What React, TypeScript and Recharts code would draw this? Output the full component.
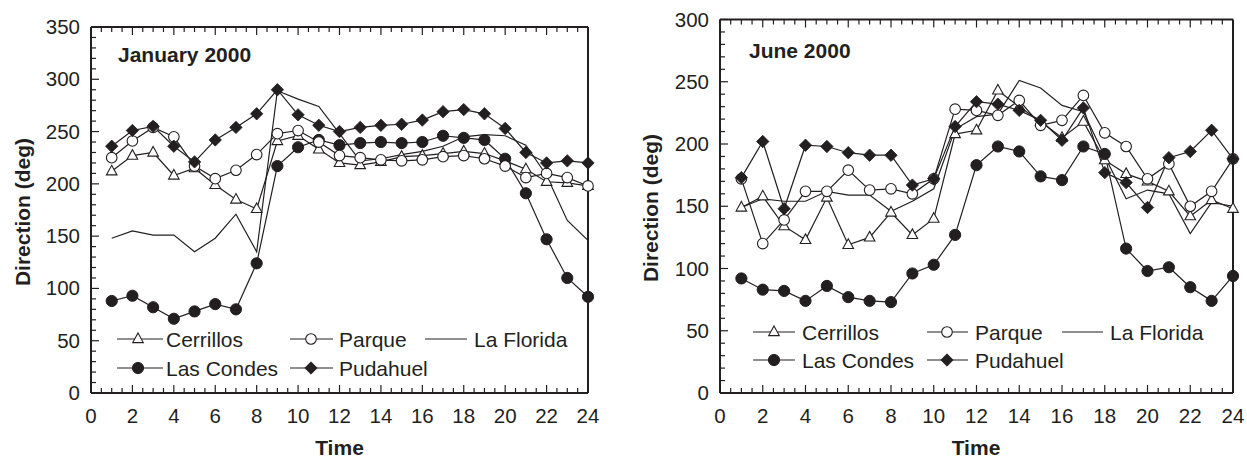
import React from 'react';
import { LineChart, Line, XAxis, YAxis } from 'recharts';

const hours = [1, 2, 3, 4, 5, 6, 7, 8, 9, 10, 11, 12, 13, 14, 15, 16, 17, 18, 19, 20, 21, 22, 23, 24];

const janCerrillos = [212, 227, 230, 208, 215, 199, 185, 176, 241, 246, 233, 220, 218, 221, 226, 227, 229, 231, 229, 222, 214, 202, 201, 198];
const janParque = [225, 241, 254, 245, 217, 205, 213, 228, 248, 251, 240, 227, 225, 223, 222, 223, 226, 227, 224, 217, 206, 210, 206, 198];
const janLaFlorida = [148, 155, 151, 151, 135, 148, 171, 135, 289, 281, 274, 248, 222, 224, 228, 231, 236, 245, 247, 246, 237, 208, 165, 146];
const janLasCondes = [88, 93, 82, 71, 78, 85, 80, 124, 217, 235, 242, 237, 239, 240, 239, 240, 246, 244, 242, 224, 191, 147, 110, 92];
const janPudahuel = [236, 251, 255, 236, 221, 242, 254, 267, 290, 266, 256, 250, 254, 256, 257, 261, 269, 271, 267, 253, 230, 220, 222, 220];

const junCerrillos = [149, 158, 134, 123, 157, 119, 125, 145, 127, 140, 208, 211, 243, 230, 218, 205, 218, 187, 176, 170, 162, 142, 155, 148];
const junParque = [172, 120, 139, 162, 162, 179, 163, 164, 160, 172, 228, 227, 223, 235, 215, 219, 239, 209, 198, 172, 184, 150, 162, 188];
const junLaFlorida = [149, 156, 154, 154, 162, 159, 159, 146, 154, 164, 212, 222, 224, 251, 245, 231, 226, 190, 156, 163, 160, 128, 153, 150];
const junLasCondes = [92, 83, 82, 74, 86, 77, 74, 73, 96, 103, 127, 183, 198, 194, 174, 171, 198, 192, 116, 98, 101, 85, 74, 94];
const junPudahuel = [173, 202, 148, 199, 198, 193, 191, 191, 167, 172, 214, 234, 232, 227, 219, 203, 229, 177, 169, 149, 189, 194, 211, 188];

const xTickLabels = [0, 2, 4, 6, 8, 10, 12, 14, 16, 18, 20, 22, 24];
const janYTickLabels = [0, 50, 100, 150, 200, 250, 300, 350];
const junYTickLabels = [0, 50, 100, 150, 200, 250, 300];

const INK = '#231f20';
const FONT = '"Liberation Sans", Arial, Helvetica, sans-serif';

function buildRows(c: number[], p: number[], f: number[], l: number[], pu: number[]) {
  return hours.map((h, i) => ({ h, cerrillos: c[i], parque: p[i], laFlorida: f[i], lasCondes: l[i], pudahuel: pu[i] }));
}

const janData = buildRows(janCerrillos, janParque, janLaFlorida, janLasCondes, janPudahuel);
const junData = buildRows(junCerrillos, junParque, junLaFlorida, junLasCondes, junPudahuel);

const xAllTicks: number[] = [];
for (let v = 0; v <= 24; v += 0.5) xAllTicks.push(v);
function yAllTicks(max: number) {
  const t: number[] = [];
  for (let v = 0; v <= max; v += 10) t.push(v);
  return t;
}

const BottomTick = (props: any) => {
  const { x, y, payload } = props;
  const v = payload.value;
  const major = xTickLabels.includes(v);
  return (
    <g>
      <line x1={x} y1={y} x2={x} y2={y - (major ? 8 : 5)} stroke={INK} strokeWidth={1.2} />
      {major && (
        <text x={x} y={y + 30} textAnchor="middle" fontSize={20.5} fontFamily={FONT} fill={INK}>{v}</text>
      )}
    </g>
  );
};
const TopTick = (props: any) => {
  const { x, y, payload } = props;
  const major = xTickLabels.includes(payload.value);
  return <line x1={x} y1={y} x2={x} y2={y + (major ? 8 : 5)} stroke={INK} strokeWidth={1.2} />;
};
const makeLeftTick = (labels: number[]) => (props: any) => {
  const { x, y, payload } = props;
  const v = payload.value;
  const major = labels.includes(v);
  return (
    <g>
      <line x1={x} y1={y} x2={x + (major ? 8 : 5)} y2={y} stroke={INK} strokeWidth={1.2} />
      {major && (
        <text x={x - 11} y={y + 7} textAnchor="end" fontSize={20.5} fontFamily={FONT} fill={INK}>{v}</text>
      )}
    </g>
  );
};
const makeRightTick = (labels: number[]) => (props: any) => {
  const { x, y, payload } = props;
  const major = labels.includes(payload.value);
  return <line x1={x} y1={y} x2={x - (major ? 8 : 5)} y2={y} stroke={INK} strokeWidth={1.2} />;
};

const TriangleMark = ({ cx, cy }: { cx: number; cy: number }) => (
  <path d={`M${cx},${cy - 6}L${cx + 5.3},${cy + 3.6}L${cx - 5.3},${cy + 3.6}Z`} fill="#fff" stroke={INK} strokeWidth={1.1} />
);
const OpenCircleMark = ({ cx, cy }: { cx: number; cy: number }) => (
  <circle cx={cx} cy={cy} r={5.3} fill="#fff" stroke={INK} strokeWidth={1.1} />
);
const FilledCircleMark = ({ cx, cy }: { cx: number; cy: number }) => (
  <circle cx={cx} cy={cy} r={5.6} fill={INK} stroke={INK} strokeWidth={1} />
);
const DiamondMark = ({ cx, cy }: { cx: number; cy: number }) => (
  <path d={`M${cx},${cy - 6.2}L${cx + 6.2},${cy}L${cx},${cy + 6.2}L${cx - 6.2},${cy}Z`} fill={INK} stroke={INK} strokeWidth={0.8} />
);

const dotFn = (Mark: any) => (p: any) => {
  if (p.cx == null || p.cy == null) return <g key={p.key} />;
  return <Mark key={p.key} cx={p.cx} cy={p.cy} />;
};

type PanelProps = {
  data: any[];
  yMax: number;
  yLabels: number[];
  width: number;
  height: number;
  margin: { top: number; right: number; bottom: number; left: number };
};

function Panel({ data, yMax, yLabels, width, height, margin }: PanelProps) {
  const yTicks = yAllTicks(yMax);
  const axisLine = { stroke: INK, strokeWidth: 2 };
  return (
    <LineChart width={width} height={height} data={data} margin={margin}>
      <XAxis xAxisId="b" dataKey="h" type="number" domain={[0, 24]} ticks={xAllTicks} interval={0}
        orientation="bottom" height={1} tickSize={0} tickMargin={0} axisLine={axisLine} tickLine={false}
        tick={BottomTick} />
      <XAxis xAxisId="t" dataKey="h" type="number" domain={[0, 24]} ticks={xAllTicks} interval={0}
        orientation="top" height={1} tickSize={0} tickMargin={0} axisLine={axisLine} tickLine={false}
        tick={TopTick} />
      <YAxis yAxisId="l" type="number" domain={[0, yMax]} ticks={yTicks} interval={0}
        orientation="left" width={1} tickSize={0} tickMargin={0} axisLine={axisLine} tickLine={false}
        tick={makeLeftTick(yLabels)} />
      <YAxis yAxisId="r" type="number" domain={[0, yMax]} ticks={yTicks} interval={0}
        orientation="right" width={1} tickSize={0} tickMargin={0} axisLine={axisLine} tickLine={false}
        tick={makeRightTick(yLabels)} />
      <Line xAxisId="b" yAxisId="l" type="linear" dataKey="laFlorida" stroke={INK} strokeWidth={1.2} dot={false} isAnimationActive={false} />
      <Line xAxisId="b" yAxisId="l" type="linear" dataKey="cerrillos" stroke={INK} strokeWidth={1.2} dot={dotFn(TriangleMark)} isAnimationActive={false} />
      <Line xAxisId="b" yAxisId="l" type="linear" dataKey="lasCondes" stroke={INK} strokeWidth={1.2} dot={dotFn(FilledCircleMark)} isAnimationActive={false} />
      <Line xAxisId="b" yAxisId="l" type="linear" dataKey="parque" stroke={INK} strokeWidth={1.2} dot={dotFn(OpenCircleMark)} isAnimationActive={false} />
      <Line xAxisId="b" yAxisId="l" type="linear" dataKey="pudahuel" stroke={INK} strokeWidth={1.2} dot={dotFn(DiamondMark)} isAnimationActive={false} />
    </LineChart>
  );
}

type LegendPos = {
  row1: number; row2: number;
  c1: [number, number, number, number];
  c2: [number, number, number, number];
  c3: [number, number, number];
};

function LegendGroup({ pos }: { pos: LegendPos }) {
  const { row1, row2, c1, c2, c3 } = pos;
  const t = { fontSize: 21, fontFamily: FONT, fill: INK } as any;
  return (
    <g>
      <line x1={c1[0]} x2={c1[1]} y1={row1} y2={row1} stroke={INK} strokeWidth={1.2} />
      <TriangleMark cx={c1[2]} cy={row1} />
      <text x={c1[3]} y={row1 + 7.5} {...t}>Cerrillos</text>
      <line x1={c2[0]} x2={c2[1]} y1={row1} y2={row1} stroke={INK} strokeWidth={1.2} />
      <OpenCircleMark cx={c2[2]} cy={row1} />
      <text x={c2[3]} y={row1 + 7.5} {...t}>Parque</text>
      <line x1={c3[0]} x2={c3[1]} y1={row1} y2={row1} stroke={INK} strokeWidth={1.2} />
      <text x={c3[2]} y={row1 + 7.5} {...t}>La Florida</text>
      <line x1={c1[0]} x2={c1[1]} y1={row2} y2={row2} stroke={INK} strokeWidth={1.2} />
      <FilledCircleMark cx={c1[2]} cy={row2} />
      <text x={c1[3]} y={row2 + 7.5} {...t}>Las Condes</text>
      <line x1={c2[0]} x2={c2[1]} y1={row2} y2={row2} stroke={INK} strokeWidth={1.2} />
      <DiamondMark cx={c2[2]} cy={row2} />
      <text x={c2[3]} y={row2 + 7.5} {...t}>Pudahuel</text>
    </g>
  );
}

export default function App() {
  const bold = { fontSize: 21, fontFamily: FONT, fill: INK, fontWeight: 700 } as any;
  return (
    <div style={{ position: 'absolute', left: 0, top: 0, width: 1247, height: 458, background: '#fff' }}>
      <div style={{ position: 'absolute', left: 0, top: 0 }}>
        <Panel data={janData} yMax={350} yLabels={janYTickLabels} width={620} height={458}
          margin={{ top: 26, right: 31, bottom: 64, left: 90 }} />
      </div>
      <div style={{ position: 'absolute', left: 620, top: 0 }}>
        <Panel data={junData} yMax={300} yLabels={junYTickLabels} width={627} height={458}
          margin={{ top: 18.5, right: 13, bottom: 64, left: 99 }} />
      </div>
      <svg width={1247} height={458} style={{ position: 'absolute', left: 0, top: 0, pointerEvents: 'none' }}>
        <text x={118} y={62} {...bold}>January 2000</text>
        <text x={749} y={58} {...bold}>June 2000</text>
        <text x={339.5} y={455} textAnchor="middle" {...bold}>Time</text>
        <text x={976} y={455} textAnchor="middle" {...bold}>Time</text>
        <text x={0} y={0} textAnchor="middle" transform="translate(30,212) rotate(-90)" {...bold}>Direction (deg)</text>
        <text x={0} y={0} textAnchor="middle" transform="translate(658,208) rotate(-90)" {...bold}>Direction (deg)</text>
        <LegendGroup pos={{ row1: 339, row2: 368, c1: [117, 163, 138, 166], c2: [290, 333, 311, 339], c3: [425, 467, 474] }} />
        <LegendGroup pos={{ row1: 332, row2: 360, c1: [753, 795, 774, 802], c2: [927, 968, 947, 975], c3: [1062, 1103, 1110] }} />
      </svg>
    </div>
  );
}
